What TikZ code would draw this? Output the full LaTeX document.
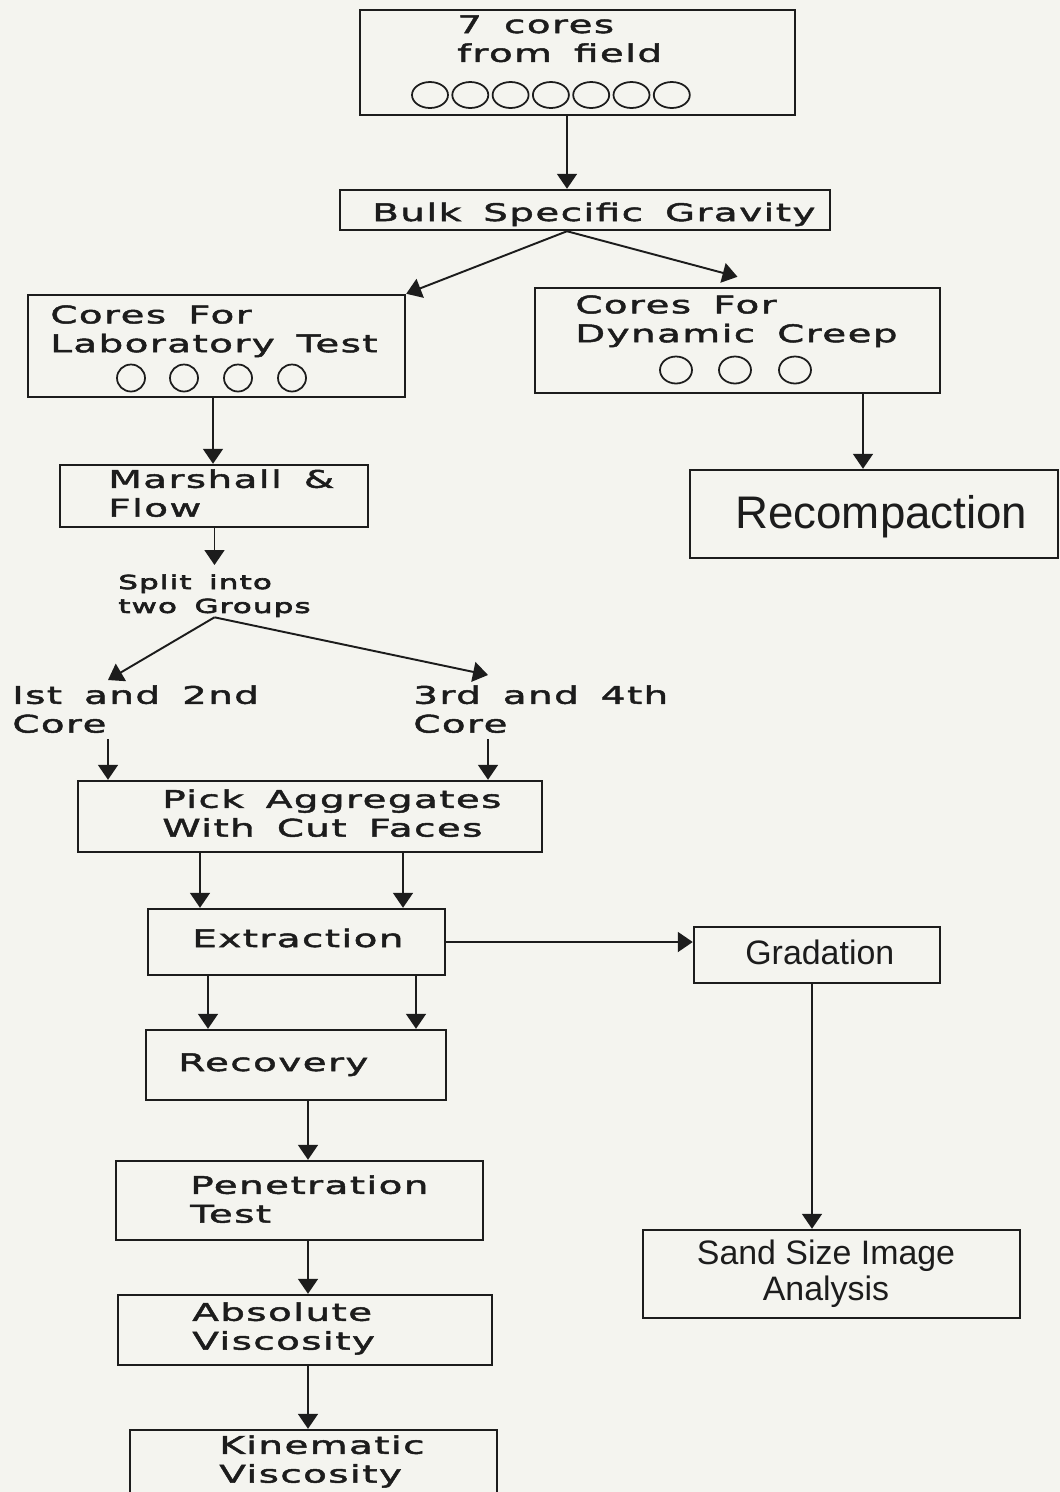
\documentclass[tikz,border=0pt]{standalone}
\usepackage{fontspec}
\newfontfamily\widefont[FakeStretch=1.6,LetterSpace=6,WordSpace=1.6,FakeBold=2]{DejaVu Sans}
\newfontfamily\splitfont[FakeStretch=1.6,LetterSpace=6,WordSpace=1.6,FakeBold=3.5]{DejaVu Sans}
\newfontfamily\plainfont{Liberation Sans}
\usetikzlibrary{positioning,fit,arrows.meta}
\definecolor{paper}{HTML}{F4F4EF}
\definecolor{ink}{HTML}{1C1C1C}
\tikzset{
  box/.style={draw=ink, line width=1.4pt, inner sep=0pt},
  lbl/.style={inner sep=0pt, align=left, text=ink,
    font=\widefont\fontsize{13.8}{16.4}\selectfont},
  plain/.style={inner sep=0pt, text=ink},
  flow/.style={draw=ink, line width=1.1pt,
    -{Triangle[length=0.3cm,width=0.4cm]}},
  disc/.style={draw=ink, line width=1pt}
}
\begin{document}
\begin{tikzpicture}[x=0.02cm,y=-0.02cm]
  \clip (0,0) rectangle (1060,1492);
  \fill[paper] (0,0) rectangle (1060,1492);

  \node[box, fit={(360,10) (795,115)}] (top) {};
  \node[lbl, anchor=north west] (top-t) at (457,15) {7 cores\\from field};
  \foreach \i in {0,...,6}
    \draw[disc] ({430+40.3*\i},95) ellipse [x radius=0.36cm, y radius=0.26cm];

  \node[box, fit={(340,190) (830,230)}] (bulk) {};
  \node[lbl, anchor=base west, font=\widefont\fontsize{13.8}{16}\selectfont]
    (bulk-t) at (372,221) {Bulk Specific Gravity};

  \node[box, fit={(28,295) (405,397)}] (lab) {};
  \node[lbl, anchor=north west] (lab-t) at (50,305) {Cores For\\Laboratory Test};
  \foreach \x in {131,184,238,292}
    \draw[disc] (\x,378) ellipse [x radius=0.28cm, y radius=0.27cm];

  \node[box, fit={(535,288) (940,393)}] (creep) {};
  \node[lbl, anchor=north west] (creep-t) at (575,295) {Cores For\\Dynamic Creep};
  \foreach \x in {676,735,795}
    \draw[disc] (\x,370) ellipse [x radius=0.32cm, y radius=0.27cm];

  \node[box, fit={(60,465) (368,527)}] (mar) {};
  \node[lbl, anchor=north west] (mar-t) at (108,469) {Marshall \&\\Flow};

  \node[box, fit={(690,470) (1058,558)}] (recomp) {};
  \node[plain, anchor=base west, font=\plainfont\fontsize{26}{30}\selectfont]
    (recomp-t) at (735,528) {Recompaction};

  \node[lbl, anchor=north west, font=\splitfont\fontsize{11}{13.6}\selectfont]
    (split) at (118,574) {Split into\\two Groups};

  \node[lbl, anchor=north west] (grpa) at (12,685) {Ist and 2nd\\Core};
  \node[lbl, anchor=north west] (grpb) at (413,685) {3rd and 4th\\Core};
  \coordinate (grpa-in) at (108,680);
  \coordinate (grpb-in) at (488,675);

  \node[box, fit={(78,781) (542,852)}] (pick) {};
  \node[lbl, anchor=north west] (pick-t) at (162,789) {Pick Aggregates\\With Cut Faces};

  \node[box, fit={(148,909) (445,975)}] (ext) {};
  \node[lbl, anchor=base west] (ext-t) at (192,947) {Extraction};

  \node[box, fit={(694,927) (940,983)}] (grad) {};
  \node[plain, anchor=base west, font=\plainfont\fontsize{19.3}{22}\selectfont]
    (grad-t) at (745,964) {Gradation};

  \node[box, fit={(146,1030) (446,1100)}] (rec) {};
  \node[lbl, anchor=base west] (rec-t) at (178,1071) {Recovery};

  \node[box, fit={(116,1161) (483,1240)}] (pen) {};
  \node[lbl, anchor=north west] (pen-t) at (190,1175) {Penetration\\Test};

  \node[box, fit={(118,1295) (492,1365)}] (abs) {};
  \node[lbl, anchor=north west] (abs-t) at (192,1302) {Absolute\\Viscosity};

  \node[box, fit={(130,1430) (497,1500)}] (kin) {};
  \node[lbl, anchor=north west] (kin-t) at (219,1435) {Kinematic\\Viscosity};

  \node[box, fit={(643,1230) (1020,1318)}] (sand) {};
  \node[plain, anchor=north, align=center, font=\plainfont\fontsize{19.3}{20.5}\selectfont]
    (sand-t) at (826,1240) {Sand Size Image\\Analysis};

  \draw[flow] (top.south -| 567,0) -- (bulk.north -| 567,0);
  \draw[flow] (bulk.south -| 567,0) -- (lab.north east);
  \draw[flow] (bulk.south -| 567,0) -- ([yshift=0.2cm]creep.north);
  \draw[flow] (lab.south -| 213,0) -- (mar.north -| 213,0);
  \draw[flow] (creep.south -| 863,0) -- (recomp.north -| 863,0);
  \draw[flow, shorten >=0.18cm] (mar.south -| split.north) -- (split.north);
  \draw[flow] (split.south) -- (grpa-in);
  \draw[flow] (split.south) -- (grpb-in);
  \draw[flow, shorten <=0.12cm] (grpa.south -| grpa-in) -- (pick.north -| grpa-in);
  \draw[flow, shorten <=0.12cm] (grpb.south -| grpb-in) -- (pick.north -| grpb-in);
  \foreach \x in {200,403}
    \draw[flow] (pick.south -| \x,0) -- (ext.north -| \x,0);
  \draw[flow] (ext.east) -- (ext.east -| grad.west);
  \foreach \x in {208,416}
    \draw[flow] (ext.south -| \x,0) -- (rec.north -| \x,0);
  \draw[flow] (rec.south -| 308,0) -- (pen.north -| 308,0);
  \draw[flow] (pen.south -| 308,0) -- (abs.north -| 308,0);
  \draw[flow] (abs.south -| 308,0) -- (kin.north -| 308,0);
  \draw[flow] (grad.south -| 812,0) -- (sand.north -| 812,0);
\end{tikzpicture}
\end{document}
